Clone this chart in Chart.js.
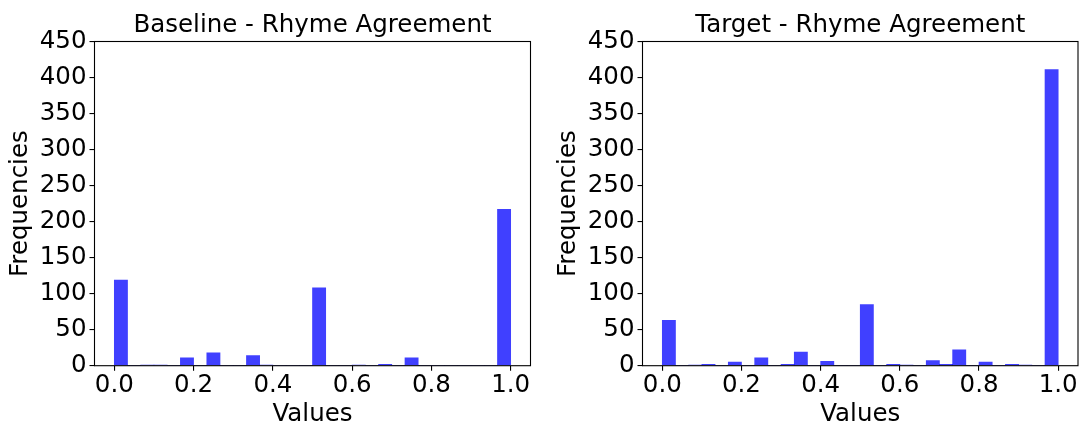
<!DOCTYPE html>
<html>
<head>
<meta charset="utf-8">
<script src="https://cdn.jsdelivr.net/npm/chart.js@4/dist/chart.umd.min.js"></script>
<style>
  html, body { margin: 0; padding: 0; background: #ffffff; }
  #wrap { position: relative; width: 1081px; height: 426px; overflow: hidden; background: #ffffff; }
  .panel { position: absolute; top: 0; }
  canvas { display: block; }
</style>
</head>
<body>
<div id="wrap">
  <div class="panel" style="left:0px"><canvas id="baselineChart" width="540" height="426"></canvas></div>
  <div class="panel" style="left:548px"><canvas id="targetChart" width="533" height="426"></canvas></div>
</div>
<script>
// Histogram bins: 30 equal bins over [0, 1]
const binLefts = [
  0/30, 1/30, 2/30, 3/30, 4/30, 5/30, 6/30, 7/30, 8/30, 9/30,
  10/30, 11/30, 12/30, 13/30, 14/30, 15/30, 16/30, 17/30, 18/30, 19/30,
  20/30, 21/30, 22/30, 23/30, 24/30, 25/30, 26/30, 27/30, 28/30, 29/30
];
const binWidth = 1 / 30;

// Counts per bin
const baselineCounts = [
  119, 0, 1, 1, 0, 11, 0, 18, 0, 0,
  14, 1, 0, 0, 0, 108, 0, 0, 1, 0,
  2, 0, 11, 0, 0, 0, 0, 0, 0, 217
];
const targetCounts = [
  63, 0, 1, 2, 0, 5, 0, 11, 0, 2,
  19, 0, 6, 0, 0, 85, 0, 2, 1, 0,
  7, 2, 22, 0, 5, 0, 2, 1, 0, 411
];

// Axis ticks
const xTickValues = [0.0, 0.2, 0.4, 0.6, 0.8, 1.0];
const yTickValues = [0, 50, 100, 150, 200, 250, 300, 350, 400, 450];

const FONT = 'DejaVu Sans';
const FS = 24.5;
const BAR_COLOR = 'rgba(0, 0, 255, 0.75)';

// Frame around the plotting area (all four spines)
const framePlugin = {
  id: 'frame',
  afterDatasetsDraw(chart) {
    const { ctx, chartArea: a } = chart;
    ctx.save();
    ctx.strokeStyle = '#000000';
    ctx.lineWidth = 1.1;
    ctx.strokeRect(a.left, a.top, a.right - a.left, a.bottom - a.top);
    ctx.restore();
  }
};

function histogram(canvasId, title, counts, rightPad) {
  const points = counts.map((c, i) => ({ x: binLefts[i] + binWidth / 2, y: c }));
  return new Chart(document.getElementById(canvasId), {
    type: 'bar',
    data: {
      datasets: [{
        data: points,
        backgroundColor: BAR_COLOR,
        borderWidth: 0,
        barPercentage: 1.0,
        categoryPercentage: 1.0,
        grouped: false
      }]
    },
    plugins: [framePlugin],
    options: {
      responsive: false,
      animation: false,
      devicePixelRatio: 1,
      layout: { padding: { left: 0, right: rightPad, top: 0, bottom: 0 } },
      plugins: {
        legend: { display: false },
        tooltip: { enabled: false },
        title: {
          display: true,
          text: title,
          fullSize: false,
          color: '#000000',
          font: { family: FONT, size: FS, weight: 'normal', lineHeight: 1.2 },
          padding: { top: 11.3, bottom: 0.8 }
        }
      },
      scales: {
        x: {
          type: 'linear',
          min: -0.05,
          max: 1.05,
          offset: false,
          afterBuildTicks(scale) { scale.ticks = xTickValues.map(v => ({ value: v })); },
          afterFit(scale) { scale.height = 60.3; },
          ticks: {
            color: '#000000',
            font: { family: FONT, size: FS, lineHeight: 1.2 },
            padding: 0,
            maxRotation: 0,
            autoSkip: false,
            callback: v => Number(v).toFixed(1)
          },
          grid: { display: true, drawOnChartArea: false, drawTicks: true, tickLength: 5, color: '#000000', lineWidth: 1.1, offset: false },
          border: { display: false },
          title: {
            display: true,
            text: 'Values',
            color: '#000000',
            font: { family: FONT, size: FS, lineHeight: 0.9 },
            padding: { top: 0, bottom: 0 }
          }
        },
        y: {
          min: 0,
          max: 450,
          afterBuildTicks(scale) { scale.ticks = yTickValues.map(v => ({ value: v })); },
          afterFit(scale) { scale.width = 94.5; },
          ticks: {
            color: '#000000',
            font: { family: FONT, size: FS, lineHeight: 1.2 },
            padding: 3,
            autoSkip: false
          },
          grid: { display: true, drawOnChartArea: false, drawTicks: true, tickLength: 5, color: '#000000', lineWidth: 1.1 },
          border: { display: false },
          title: {
            display: true,
            text: 'Frequencies',
            color: '#000000',
            font: { family: FONT, size: FS, lineHeight: 1.2 },
            padding: { top: 6, bottom: 0 }
          }
        }
      }
    }
  });
}

histogram('baselineChart', 'Baseline - Rhyme Agreement', baselineCounts, 9.5);
histogram('targetChart', 'Target - Rhyme Agreement', targetCounts, 3);
</script>
</body>
</html>
